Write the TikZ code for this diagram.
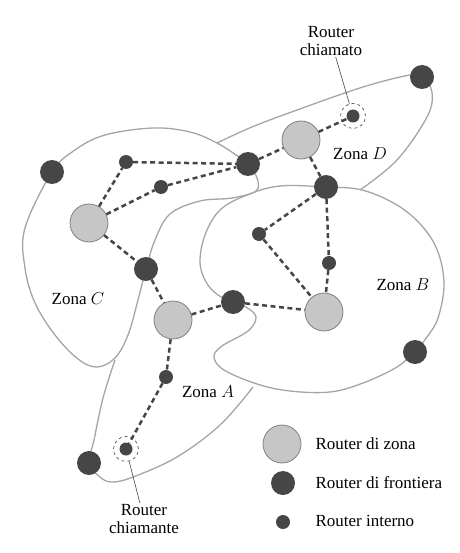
\documentclass[tikz,border=0pt]{standalone}
\usepackage{fontspec}
\setmainfont{Liberation Serif}
\usepackage{tikz}
\usetikzlibrary{positioning}
\definecolor{rdark}{RGB}{70,70,70}
\definecolor{rzone}{RGB}{198,198,198}
\definecolor{zoneline}{RGB}{165,165,165}

\begin{document}
\begin{tikzpicture}[
    x=1pt, y=-1pt,
    every node/.style={font=\fontsize{17}{18}\selectfont},
    zonerouter/.style={circle, draw=gray, line width=0.8pt, fill=rzone, minimum size=38pt, inner sep=0pt},
    borderrouter/.style={circle, fill=rdark, minimum size=24pt, inner sep=0pt},
    innerrouter/.style={circle, fill=rdark, minimum size=14pt, inner sep=0pt},
    ring/.style={circle, draw=rdark, dashed, line width=0.6pt, minimum size=25pt, inner sep=0pt},
    outline/.style={draw=zoneline, line width=1.3pt},
    link/.style={rdark, line width=2.5pt, dash pattern=on 5pt off 3.5pt},
    callout/.style={draw=rdark, line width=0.6pt},
    tag/.style={align=center}
]
    \useasboundingbox (0,0) rectangle (459,553);

    % Zone outlines
    \draw [outline] plot [smooth cycle, tension=0.6] coordinates {
        (153,128) (190,132) (217,143) (236,155) (248,164) (257,178) (256,191)
        (232,198) (200,201) (170,214) (155,240) (146,269) (138,300) (128,335)
        (115,358) (97,367) (78,359) (55,335) (35,303) (25,268) (25,228)
        (52,172) (75,150) (105,135)};
    \draw [outline] plot [smooth cycle, tension=0.6] coordinates {
        (247,195) (280,186) (326,187) (362,190) (397,205) (422,226) (438,252)
        (444,285) (438,318) (427,337) (415,351) (397,367) (363,383) (330,392)
        (290,391) (257,384) (224,370) (214,357) (222,346) (248,331) (256,317)
        (246,307) (233,302) (218,295) (206,282) (200,262) (205,235) (220,210)};
    \draw [outline] plot [smooth, tension=0.6] coordinates {
        (217,143) (252,127) (297,110) (363,87) (410,75) (422,77) (432,92)
        (427,117) (397,160) (360,190)};
    \draw [outline] plot [smooth, tension=0.6] coordinates {
        (115,360) (103,398) (94,440) (89,463) (100,477) (112,482) (133,477)
        (177,457) (220,425) (253,387)};

    % Nodes
    \node (zoneD) [zonerouter] at (301,140) {};
    \node (zoneC) [zonerouter] at (89,223) {};
    \node (zoneA) [zonerouter] at (173,320) {};
    \node (zoneB) [zonerouter] at (324,312) {};

    \node (edgeTR) [borderrouter] at (422,77) {};
    \node (edgeDB) [borderrouter] at (326,187) {};
    \node (edgeCD) [borderrouter] at (248,164) {};
    \node (edgeL) [borderrouter] at (52,172) {};
    \node (edgeCA) [borderrouter] at (146,269) {};
    \node (edgeAB) [borderrouter] at (233,302) {};
    \node (edgeR) [borderrouter] at (415,352) {};
    \node (edgeBL) [borderrouter] at (89,463) {};

    \node (intC1) [innerrouter] at (126,162) {};
    \node (intC2) [innerrouter] at (161,187) {};
    \node (intB1) [innerrouter] at (259,234) {};
    \node (intB2) [innerrouter] at (329,263) {};
    \node (intA1) [innerrouter] at (166,377) {};
    \node (called) [innerrouter, minimum size=13pt] at (353,116) {};
    \node (calling) [innerrouter, minimum size=13pt] at (126,449) {};
    \node (ringD) [ring] at (353,116) {};
    \node (ringA) [ring] at (126,449) {};

    % Connections
    \draw [link] (intC1) -- (edgeCD);
    \draw [link] (intC2) -- (edgeCD);
    \draw [link] (zoneC) -- (intC1);
    \draw [link] (zoneC) -- (intC2);
    \draw [link] (zoneC) -- (edgeCA);
    \draw [link] (edgeCA) -- (zoneA);
    \draw [link] (zoneA) -- (edgeAB);
    \draw [link] (edgeAB) -- (zoneB);
    \draw [link] (zoneA) -- (intA1);
    \draw [link] (intA1) -- (calling);
    \draw [link] (edgeCD) -- (zoneD);
    \draw [link] (zoneD) -- (called);
    \draw [link] (zoneD) -- (edgeDB);
    \draw [link] (edgeDB) -- (intB1);
    \draw [link] (edgeDB) -- (intB2);
    \draw [link] (intB1) -- (zoneB);
    \draw [link] (intB2) -- (zoneB);

    % Labels
    \node (lblD) at (360,154) {Zona $D$};
    \node (lblC) at (78,299) {Zona $C$};
    \node (lblB) at (403,285) {Zona $B$};
    \node (lblA) at (208,392) {Zona $A$};

    \node (lblCalled) [tag, inner sep=1pt] at (331,41) {Router\\chiamato};
    \node (lblCalling) [tag, inner sep=1pt] at (144,519) {Router\\chiamante};
    \draw [callout] (lblCalled) -- (ringD);
    \draw [callout] (ringA) -- (lblCalling);

    % Legend
    \node (legZone) [zonerouter] at (282,444) {};
    \node (legEdge) [borderrouter] at (283,483) {};
    \node (legInner) [innerrouter] at (283,522) {};
    \node (txtZone) [anchor=west] at (312,444) {Router di zona};
    \node (txtEdge) [anchor=west] at (312,483) {Router di frontiera};
    \node (txtInner) [anchor=west] at (312,521) {Router interno};
\end{tikzpicture}
\end{document}
